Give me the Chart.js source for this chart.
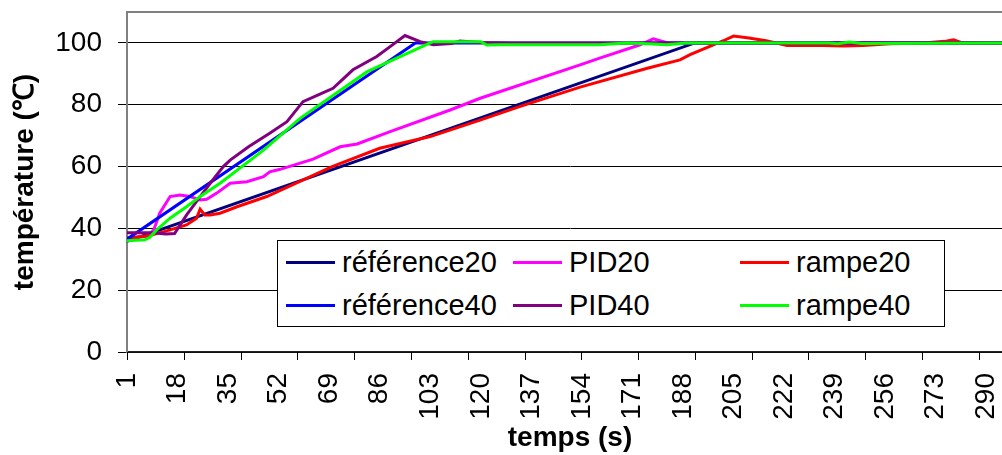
<!DOCTYPE html>
<html>
<head>
<meta charset="utf-8">
<script src="https://cdn.jsdelivr.net/npm/chart.js@4.4.1/dist/chart.umd.min.js"></script>
<style>
  html, body { margin: 0; padding: 0; background: #fff; overflow: hidden; }
  #wrap { position: relative; width: 1014px; height: 455px; }
  #legend {
    position: absolute; left: 277px; top: 240px; width: 668px; height: 87px;
    box-sizing: border-box; border: 1px solid #000; background: #fff;
    padding-left: 8px; display: grid; grid-template-columns: 227px 227px 200px;
    grid-auto-rows: 43px; font-family: 'Liberation Sans', Arial, sans-serif; font-size: 29px;
  }
  #legend .item { display: flex; align-items: center; white-space: nowrap; }
  #legend .line { width: 49px; height: 3px; margin-right: 7px; }
</style>
</head>
<body>
<div id="wrap">
  <canvas id="myChart"></canvas>
  <div id="legend"></div>
</div>
<script>
// valeurs : [temps (s), température (°C)]
var ref20 = [[1, 35.8], [192, 100], [299, 100]];
var pid20 = [[1, 36.8], [8, 37.5], [10, 39.5], [12, 44.9], [15.5, 50.3], [18.8, 50.8], [22.2, 50.3],
  [25.6, 49.2], [27.8, 49.4], [31.2, 51.4], [35.7, 54.6], [41.3, 55.1], [46.9, 56.7], [49, 58.3],
  [52.5, 59.1], [63.6, 62.4], [72.7, 66.4], [78.4, 67.3], [89.5, 71.3], [109.7, 78.3], [119.8, 82.1],
  [153.4, 92.9], [160, 95.1], [173.6, 99.4], [178, 101.3], [183, 100], [299, 100]];
var rampe20 = [[1, 36.9], [8, 37.5], [15.5, 39.5], [21, 41.1], [24.4, 43.3], [25.6, 46.2], [27.2, 44.3],
  [29, 44.3], [32.3, 44.9], [38, 47], [48, 50.3], [70, 60], [86, 65.9], [103, 69.7], [120, 75.1],
  [133, 79.4], [153.4, 85.7], [176, 91.8], [187, 94.5], [190.4, 96.2], [197, 98.9], [201.6, 100.7],
  [205, 102.2], [209.6, 101.7], [216, 100.7], [223, 99.2], [235, 99.2], [242, 99], [248.6, 99.2],
  [257.7, 99.7], [269, 100], [276, 100.5], [279, 101], [282, 100], [299, 100]];
var ref40 = [[1, 36.5], [98, 100], [299, 100]];
var pid40 = [[1, 38.6], [10, 38.6], [14, 38.2], [17, 38.3], [21, 44.3], [25.6, 50.3], [29, 54.6],
  [33.4, 60], [35.7, 62.1], [42, 66.5], [49, 70.8], [54.8, 74.5], [60.2, 81], [65.9, 83.4],
  [70.3, 85.3], [77, 91.3], [85, 95.6], [89.5, 98.8], [94.5, 102.4], [99.6, 100.4], [104, 99.4],
  [110, 99.8], [113, 100.6], [120, 100.1], [130, 100], [299, 100]];
var rampe40 = [[1, 36], [7, 36.3], [8.7, 37.1], [11, 39.5], [15.5, 43.3], [21, 47], [25.6, 50.3],
  [32.3, 54.6], [47, 65.4], [59.2, 75.6], [81.8, 90.7], [103, 100], [104, 100.4], [120, 100.4],
  [122, 99.3], [126, 99.4], [160, 99.4], [169, 100], [176, 99.7], [182.6, 99.4], [189, 100],
  [237, 100], [240, 99.7], [244, 100.3], [248, 99.8], [299, 100]];

var seriesNames = ['référence20', 'PID20', 'rampe20', 'référence40', 'PID40', 'rampe40'];
var seriesData = [ref20, pid20, rampe20, ref40, pid40, rampe40];
var seriesColors = ['#000080', '#FF00FF', '#FF0000', '#0000FF', '#800080', '#00FF00'];

var xTickLabels = [1, 18, 35, 52, 69, 86, 103, 120, 137, 154, 171, 188, 205, 222, 239, 256, 273, 290];
var yTickLabels = [0, 20, 40, 60, 80, 100];
var xTickMarkStep = 19.1; // graduations de l'axe (pas différent des étiquettes)

Chart.defaults.font.family = "'Liberation Sans', Arial, sans-serif";
Chart.defaults.color = '#000';

var datasets = [];
for (var i = 0; i < seriesNames.length; i++) {
  datasets.push({
    label: seriesNames[i],
    data: seriesData[i].map(function (p) { return { x: p[0], y: p[1] }; }),
    borderColor: seriesColors[i],
    backgroundColor: seriesColors[i],
    borderWidth: 3,
    pointRadius: 0,
    tension: 0,
    order: seriesNames.length - i // la dernière série est dessinée au-dessus
  });
}

// cadre gris du haut + graduations de l'axe des temps
var frame = {
  id: 'frame',
  afterDraw: function (chart) {
    var ctx = chart.ctx, a = chart.chartArea, xs = chart.scales.x;
    ctx.save();
    ctx.strokeStyle = '#808080';
    ctx.lineWidth = 2;
    ctx.beginPath();
    ctx.moveTo(a.left, a.top);
    ctx.lineTo(a.right, a.top);
    ctx.lineTo(a.right, a.bottom);
    ctx.stroke();
    ctx.strokeStyle = '#000';
    ctx.lineWidth = 1;
    ctx.beginPath();
    for (var v = xs.min; v <= xs.max; v += xTickMarkStep) {
      var px = Math.round(xs.getPixelForValue(v)) + 0.5;
      ctx.moveTo(px, a.bottom);
      ctx.lineTo(px, a.bottom + 8);
    }
    ctx.stroke();
    ctx.restore();
  }
};

var ctx = document.getElementById('myChart').getContext('2d');
var myChart = new Chart(ctx, {
  type: 'line',
  data: { datasets: datasets },
  plugins: [frame],
  options: {
    responsive: true,
    maintainAspectRatio: false,
    animation: false,
    layout: { padding: { top: 12, right: 1, left: 0, bottom: 0 } },
    plugins: { legend: { display: false }, tooltip: { enabled: false } },
    scales: {
      x: {
        type: 'linear',
        min: 1,
        max: 299,
        afterBuildTicks: function (scale) {
          scale.ticks = xTickLabels.map(function (v) { return { value: v }; });
        },
        afterFit: function (scale) {
          scale.height = 103;
          scale.paddingLeft = 0;
          scale.paddingRight = 0;
        },
        grid: { display: false, drawTicks: false, tickLength: 0 },
        border: { display: true, color: '#222', width: 1.5 },
        ticks: { autoSkip: false, minRotation: 90, maxRotation: 90, padding: 21, font: { size: 28 } },
        title: { display: true, text: 'temps (s)', font: { size: 28, weight: 'bold' }, padding: { top: 3, bottom: 0 } }
      },
      y: {
        min: 0,
        max: 110,
        afterBuildTicks: function (scale) {
          scale.ticks = yTickLabels.map(function (v) { return { value: v }; });
        },
        afterFit: function (scale) {
          scale.width = 127;
          scale.paddingTop = 0;
          scale.paddingBottom = 0;
        },
        grid: { color: '#000', lineWidth: 1, tickLength: 9, tickColor: '#000' },
        border: { display: true, color: '#808080', width: 2 },
        ticks: { padding: 16, font: { size: 28 } },
        title: { display: true, text: 'température (℃)', font: { size: 28, weight: 'bold' }, padding: { top: 8, bottom: 14 } }
      }
    }
  }
});

// légende sur 3 colonnes, comme dans le graphique d'origine
var legend = document.getElementById('legend');
myChart.data.datasets.forEach(function (ds) {
  var item = document.createElement('div');
  item.className = 'item';
  var line = document.createElement('span');
  line.className = 'line';
  line.style.background = ds.borderColor;
  item.appendChild(line);
  item.appendChild(document.createTextNode(ds.label));
  legend.appendChild(item);
});
</script>
</body>
</html>
